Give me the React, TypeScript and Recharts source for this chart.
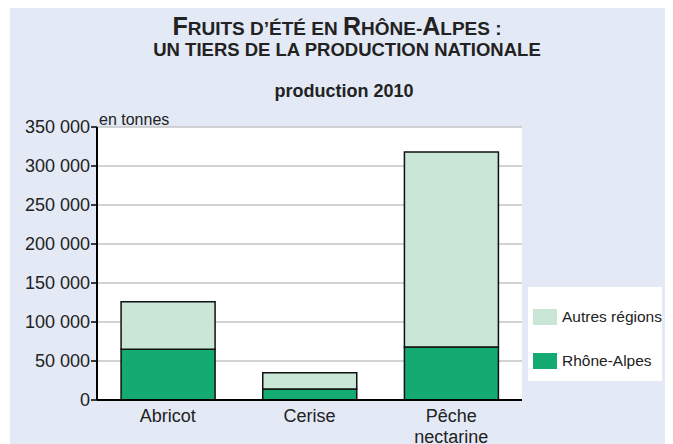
import React from 'react';
import { BarChart, Bar, XAxis, YAxis, CartesianGrid } from 'recharts';

const categories = ['Abricot', 'Cerise', 'Pêche\nnectarine'];
const rhoneAlpes = [65000, 14000, 68000];
const autresRegions = [61000, 21000, 250000];
const yTicks = [0, 50000, 100000, 150000, 200000, 250000, 300000, 350000];
const boundaryTicks = [0, 1, 2, 3];
const seriesNames = { rhone: 'Rhône-Alpes', autres: 'Autres régions' };

const data = categories.map((c, i) => ({
  name: c,
  rhone: rhoneAlpes[i],
  autres: autresRegions[i],
}));

const DARK = '#14ab73';
const LIGHT = '#c9e6d6';
const TEXT = '#222';
const FONT = '"Liberation Sans", Arial, sans-serif';

const legendItems = [
  { name: seriesNames.autres, color: LIGHT },
  { name: seriesNames.rhone, color: DARK },
];

const fmt = (v: number) => String(v).replace(/\B(?=(\d{3})+(?!\d))/g, ' ');

const CatTick = (props: any) => {
  const { x, y, payload } = props;
  const lines = String(payload.value).split('\n');
  return (
    <g transform={`translate(${x},${y})`}>
      {lines.map((l: string, i: number) => (
        <text key={i} x={0} y={14 + i * 21} textAnchor="middle" fill={TEXT} fontSize={18} fontFamily={FONT}>
          {l}
        </text>
      ))}
    </g>
  );
};

const EmptyTick = () => <g />;

export default function App() {
  return (
    <div style={{ position: 'relative', width: 663, height: 436, marginLeft: 2, background: '#e3e9f5' }}>
      <BarChart
        width={663}
        height={436}
        data={data}
        margin={{ top: 119, right: 151, left: 0, bottom: 0 }}
        barCategoryGap="17%"
      >
        <CartesianGrid vertical={false} stroke="#c4c4c4" strokeWidth={1.5} fill="#ffffff" />
        <XAxis
          xAxisId="bounds"
          type="number"
          domain={[0, 3]}
          ticks={boundaryTicks}
          height={0}
          tick={<EmptyTick />}
          axisLine={false}
          tickLine={{ stroke: '#000', strokeWidth: 1.5 }}
          tickSize={6}
          allowDataOverflow
        />
        <XAxis
          dataKey="name"
          height={44}
          tick={<CatTick />}
          tickLine={false}
          axisLine={{ stroke: '#000', strokeWidth: 2 }}
          interval={0}
        />
        <YAxis
          width={87}
          domain={[0, 350000]}
          ticks={yTicks}
          tickFormatter={fmt}
          interval={0}
          tick={{ fill: TEXT, fontSize: 18, fontFamily: FONT }}
          tickLine={{ stroke: '#000', strokeWidth: 1.5 }}
          tickSize={6}
          tickMargin={1}
          axisLine={{ stroke: '#000', strokeWidth: 2 }}
        />
        <Bar dataKey="rhone" name={seriesNames.rhone} stackId="a" fill={DARK} stroke="#111" strokeWidth={1.5} isAnimationActive={false} />
        <Bar dataKey="autres" name={seriesNames.autres} stackId="a" fill={LIGHT} stroke="#111" strokeWidth={1.5} isAnimationActive={false} />
      </BarChart>
      <div
        style={{
          position: 'absolute',
          left: 518,
          top: 279,
          width: 134,
          height: 94,
          background: '#fff',
          boxSizing: 'border-box',
          paddingTop: 22,
          fontFamily: FONT,
        }}
      >
        {legendItems.map((it, i) => (
          <div key={i} style={{ display: 'flex', alignItems: 'center', height: 16, marginBottom: i === 0 ? 28 : 0 }}>
            <div style={{ width: 24, height: 16, background: it.color, marginLeft: 5, marginRight: 5, flexShrink: 0 }} />
            <span style={{ fontSize: 15.5, color: TEXT, whiteSpace: 'nowrap' }}>{it.name}</span>
          </div>
        ))}
      </div>
      <svg width={663} height={436} style={{ position: 'absolute', left: 0, top: 0, pointerEvents: 'none' }}>
        <text x={327} y={27} textAnchor="middle" fill={TEXT} fontFamily={FONT} fontWeight="bold">
          <tspan fontSize={25}>F</tspan>
          <tspan fontSize={19}>RUITS D’ÉTÉ EN </tspan>
          <tspan fontSize={25}>R</tspan>
          <tspan fontSize={19}>HÔNE-</tspan>
          <tspan fontSize={25}>A</tspan>
          <tspan fontSize={19}>LPES :</tspan>
        </text>
        <text x={337} y={48} textAnchor="middle" fill={TEXT} fontFamily={FONT} fontWeight="bold" fontSize={18.5}>
          UN TIERS DE LA PRODUCTION NATIONALE
        </text>
        <text x={334} y={89} textAnchor="middle" fill={TEXT} fontFamily={FONT} fontWeight="bold" fontSize={18}>
          production 2010
        </text>
        <text x={89} y={117} fill={TEXT} fontFamily={FONT} fontSize={16}>
          en tonnes
        </text>
      </svg>
    </div>
  );
}
